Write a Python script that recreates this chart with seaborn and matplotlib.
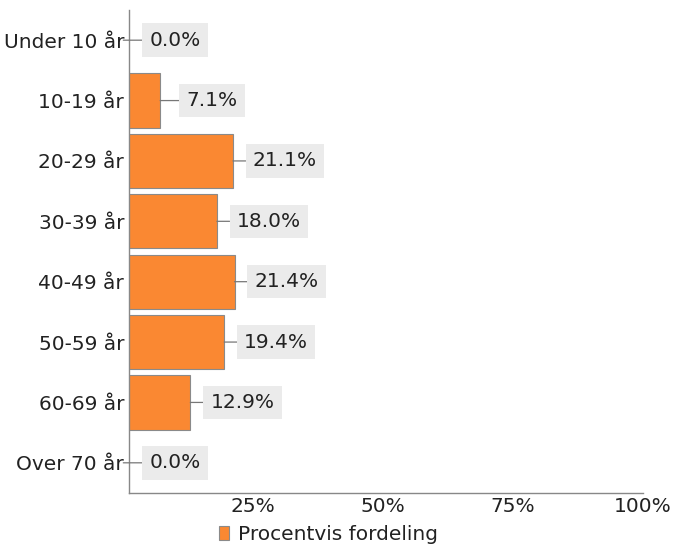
import matplotlib
matplotlib.use("Agg")
import matplotlib.pyplot as plt
import seaborn as sns
import pandas as pd
from matplotlib.patches import Patch

categories = ["Under 10 år", "10-19 år", "20-29 år", "30-39 år", "40-49 år",
              "50-59 år", "60-69 år", "Over 70 år"]
values = [0.0, 7.1, 21.1, 18.0, 21.4, 19.4, 12.9, 0.0]
xticks = [25, 50, 75, 100]
xtick_labels = ["25%", "50%", "75%", "100%"]
series_name = "Procentvis fordeling"

df = pd.DataFrame({"cat": categories, "val": values})

sns.set_theme(style="white")
plt.rcParams['font.family'] = ['DejaVu Sans']

FS = 14.5
fig = plt.figure(figsize=(6.78, 5.47), dpi=100)
ax = fig.add_axes([129/678, 1-493/547, (643-129)/678, (493-10)/547])

bar_color = "#FA8832"
sns.barplot(data=df, x="val", y="cat", orient="h", color=bar_color,
            width=0.9, edgecolor="#8a8a8a", linewidth=0.8, saturation=1, ax=ax)

ax.set_xlim(1.1, 100)
ax.set_ylim(7.5, -0.5)
ax.set_xticks(xticks)
ax.set_xticklabels(xtick_labels, fontsize=FS, color="#222222")
ax.set_ylabel("")
ax.set_xlabel("")
ax.tick_params(axis="y", labelsize=FS, labelcolor="#222222", length=3,
               width=0.8, color="#888888", direction="out", pad=0.5)
ax.tick_params(axis="x", length=3, width=0.8, color="#888888",
               direction="in", pad=3)
for s in ["top", "right"]:
    ax.spines[s].set_visible(False)
for s in ["left", "bottom"]:
    ax.spines[s].set_color("#888888")
    ax.spines[s].set_linewidth(1.0)

for i, v in enumerate(values):
    ax.annotate(f"{v:.1f}%", xy=(v, i), xycoords="data",
                xytext=(37.5, 0), textcoords="offset points",
                ha="center", va="center", fontsize=FS, color="#222222",
                annotation_clip=False,
                bbox=dict(boxstyle="square,pad=0.36", fc="#EBEBEB", ec="none"),
                arrowprops=dict(arrowstyle="-", color="#777777", lw=0.9,
                                shrinkA=0, shrinkB=0))

handles = [Patch(facecolor=bar_color, edgecolor="#8a8a8a", linewidth=0.8)]
fig.legend(handles, [series_name], loc="center", bbox_to_anchor=(0.4845, 0.022),
           frameon=False, fontsize=FS, handlelength=0.5, handleheight=0.7,
           handletextpad=0.4, labelcolor="#222222")

fig.savefig("out.png", dpi=100)
